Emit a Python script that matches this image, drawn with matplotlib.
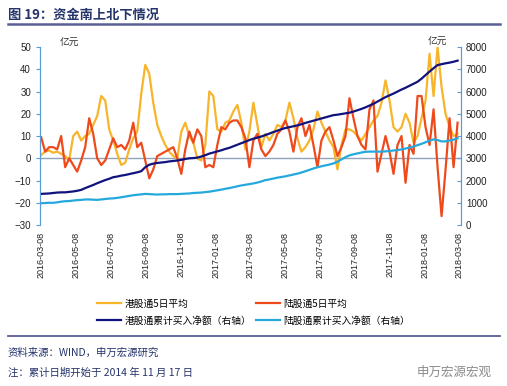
import numpy as np
import pandas as pd
import matplotlib
matplotlib.use("Agg")
import matplotlib.pyplot as plt
import matplotlib.dates as mdates

plt.rcParams['font.family'] = ['Liberation Sans', 'Noto Sans CJK SC', 'DejaVu Sans']
cjk = ['Noto Sans CJK SC', 'DejaVu Sans']

# weekly samples, starting 2016-03-08
dates = pd.date_range('2016-03-08', periods=105, freq='7D')

hk_5d = [1.5, 3, 3.5, 2.5, 3, 2, 1, -1, 10, 12, 8, 10, 11, 15, 19, 28, 26, 13, 8, 2,
         -3, -2, 4, 9, 12, 29, 42, 38, 25, 15, 10, 6, 3, 1, 0, 12, 16, 10, 7, 0,
         -1, 6, 30, 28, 13, 12, 16, 17, 21, 24, 16, 4, 12, 25, 15, 5, 11, 8, 11, 15,
         14, 17, 25, 18, 9, 3, 5, 8, 13, 21, 16, 12, 8, 5, -5, 6, 13, 13, 12, 10,
         8, 11, 14, 17, 19, 25, 35, 26, 14, 12, 14, 20, 16, 7, 10, 18, 26, 47, 28, 50,
         32, 20, 14, 10, 11]

sh_5d = [9.5, 3, 5, 5, 4, 10, -4, 0, -3, -6, -1, 5, 18, 11, 0, -3, -1, 4, 9, 5,
         6, 4, 8, 16, 5, 7, -1, -9, -5, 1, 2, 3, 4, 5, 0, -7, 4, 12, 7, 13,
         10, -4, -3, -4, 6, 14, 13, 16, 17, 17, 14, 9, -4, 8, 11, 4, 1, 3, 6, 11,
         13, 17, 12, 3, 14, 18, 10, 15, 6, -4, 8, 12, 14, 8, 1, 5, 10, 27, 18, 10,
         6, 4, 22, 26, -6, 2, 10, 3, -7, 6, 10, -11, 6, 2, 28, 28, 14, 6, 22, -4,
         -26, -5, 18, -4, 16]

hk_cum = [1400, 1410, 1420, 1440, 1460, 1470, 1470, 1490, 1510, 1540, 1580, 1660, 1730, 1800, 1880,
          1950, 2020, 2080, 2150, 2180, 2220, 2250, 2290, 2330, 2370, 2420, 2600, 2710, 2760, 2790,
          2810, 2830, 2860, 2880, 2900, 2930, 2970, 3000, 3010, 3030, 3080, 3140, 3210, 3260, 3310,
          3360, 3420, 3470, 3540, 3610, 3680, 3745, 3820, 3880, 3930, 3980, 4045, 4110, 4180, 4240,
          4310, 4360, 4400, 4440, 4480, 4530, 4590, 4640, 4690, 4740, 4790, 4840, 4890, 4940, 4960,
          4990, 5020, 5050, 5100, 5160, 5220, 5290, 5370, 5450, 5550, 5650, 5750, 5830, 5910, 6000,
          6090, 6170, 6260, 6350, 6440, 6580, 6740, 6900, 7050, 7190, 7230, 7270, 7300, 7340, 7390]

sh_cum = [980, 990, 1000, 1000, 1020, 1050, 1070, 1080, 1100, 1120, 1130, 1150, 1150, 1140, 1130,
          1150, 1170, 1190, 1200, 1220, 1250, 1280, 1310, 1340, 1360, 1380, 1400, 1390, 1380, 1370,
          1380, 1380, 1390, 1390, 1390, 1400, 1410, 1420, 1440, 1450, 1460, 1480, 1500, 1530, 1560,
          1590, 1630, 1660, 1700, 1740, 1780, 1810, 1840, 1870, 1910, 1960, 2020, 2050, 2090, 2130,
          2160, 2190, 2230, 2270, 2310, 2360, 2420, 2480, 2540, 2600, 2640, 2680, 2720, 2770, 2850,
          2950, 3050, 3130, 3180, 3220, 3260, 3290, 3300, 3300, 3300, 3300, 3310, 3330, 3350, 3370,
          3400, 3440, 3480, 3530, 3590, 3650, 3720, 3790, 3850, 3820, 3760, 3760, 3800, 3840, 3900]

labels = ['港股通5日平均', '陆股通5日平均', '港股通累计买入净额（右轴）', '陆股通累计买入净额（右轴）']
tick_dates = pd.date_range('2016-03-08', '2018-03-08', freq=pd.DateOffset(months=2))

navy = '#25346B'
rule = '#5A5E95'
spine_c = '#5B9BD5'

fig = plt.figure(figsize=(5.07, 3.86), dpi=100)
ax = fig.add_axes([0.0789, 0.417, 0.8304, 0.4611])
ax2 = ax.twinx()

l1, = ax.plot(dates, hk_5d, color='#F7B52C', lw=1.6, label=labels[0])
l2, = ax.plot(dates, sh_5d, color='#EE4A1C', lw=1.6, label=labels[1])
l3, = ax2.plot(dates, hk_cum, color='#10127E', lw=1.6, label=labels[2])
l4, = ax2.plot(dates, sh_cum, color='#25A9DD', lw=1.6, label=labels[3])

ax.axhline(0, color='#8FA3BC', lw=1.0, zorder=0)
ax.set_ylim(-30, 50)
ax.set_yticks(range(-30, 51, 10))
ax2.set_ylim(0, 8000)
ax2.set_yticks(range(0, 8001, 1000))
ax.set_xlim(pd.Timestamp('2016-03-06'), pd.Timestamp('2018-03-12'))
ax.set_xticks(tick_dates)
ax.xaxis.set_major_formatter(mdates.DateFormatter('%Y-%m-%d'))
ax.tick_params(axis='x', rotation=90, length=0, labelsize=6.5, pad=5, colors='#222222')
ax.tick_params(axis='y', labelsize=7, length=3, color=spine_c, colors='#222222')
ax2.tick_params(axis='y', labelsize=7, length=3, direction='in', color=spine_c, colors='#222222')
for a in (ax, ax2):
    a.spines['top'].set_visible(False)
    a.spines['bottom'].set_visible(False)
    a.spines['left'].set_color(spine_c)
    a.spines['right'].set_color(spine_c)
ax.tick_params(axis='y', colors='#222222')
ax.yaxis.set_tick_params(color=spine_c)
ax2.yaxis.set_tick_params(color=spine_c)

fig.text(60 / 507, 1 - 43 / 386, '亿元', family=cjk, fontsize=7, ha='left', va='center', color='#333333')
fig.text(437 / 507, 1 - 42 / 386, '亿元', family=cjk, fontsize=7, ha='center', va='center', color='#333333')

fig.legend([l1, l3, l2, l4], [labels[0], labels[2], labels[1], labels[3]],
           ncol=2, loc='center', bbox_to_anchor=(0.5, 1 - 312 / 386), frameon=False,
           prop={'family': cjk, 'size': 7}, handlelength=2.5, handletextpad=0.3,
           columnspacing=0.5, labelspacing=0.75)

# title and footer
fig.text(8 / 507, 1 - 15 / 386, '图 19：资金南上北下情况', family=cjk, fontsize=9.5,
         weight='bold', color=navy, ha='left', va='center')
fig.add_artist(plt.Line2D([8 / 507, 500 / 507], [1 - 24 / 386] * 2, color=rule, lw=1.8))
fig.add_artist(plt.Line2D([8 / 507, 500 / 507], [1 - 336 / 386] * 2, color=rule, lw=1.3))
fig.text(8 / 507, 1 - 353 / 386, '资料来源：WIND，申万宏源研究', family=cjk, fontsize=7.5,
         color=navy, ha='left', va='center')
fig.text(8 / 507, 1 - 373 / 386, '注：累计日期开始于 2014 年 11 月 17 日', family=cjk, fontsize=7.5,
         color=navy, ha='left', va='center')
fig.text(492 / 507, 1 - 372 / 386, '申万宏源宏观', family=cjk, fontsize=9,
         color='#8A8A8A', ha='right', va='center')

fig.savefig('out.png', dpi=100)
